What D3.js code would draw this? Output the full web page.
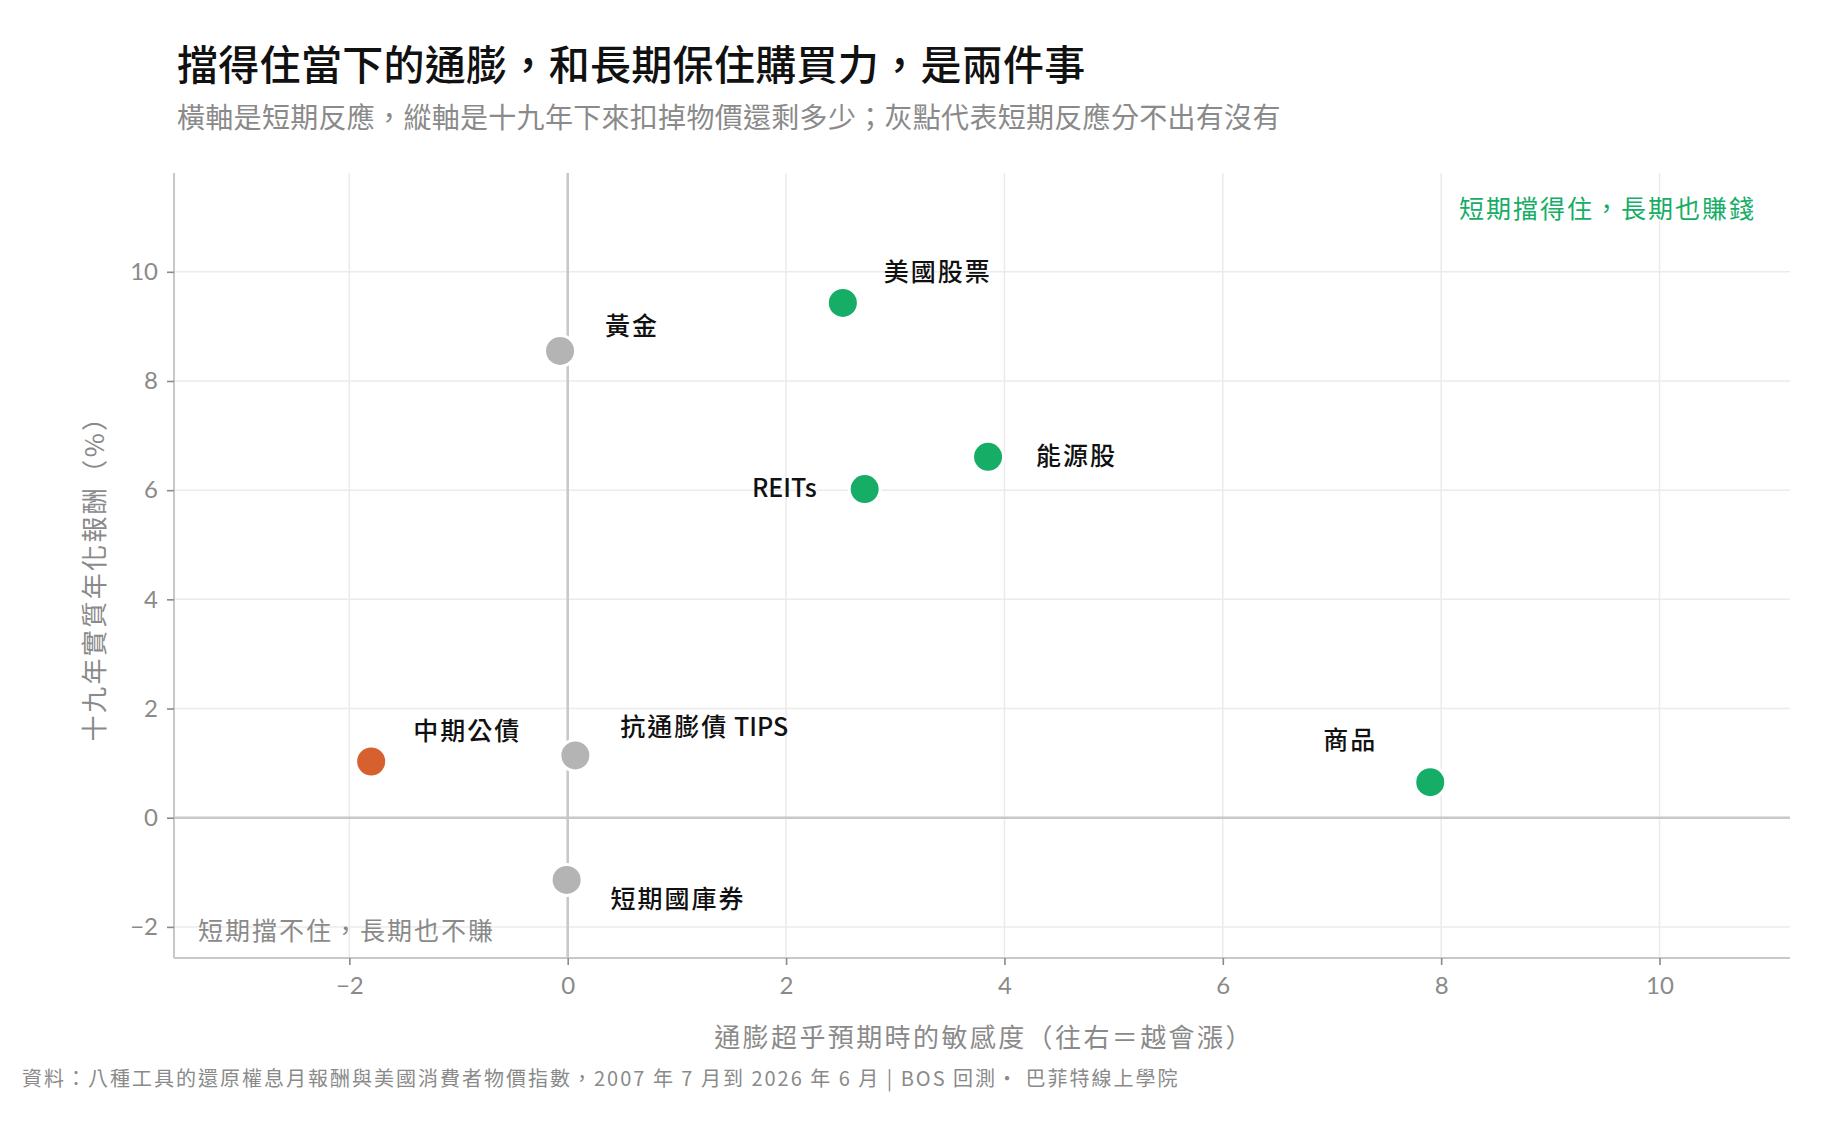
<!DOCTYPE html>
<html>
<head>
<meta charset="utf-8">
<script src="https://cdn.jsdelivr.net/npm/d3@7"></script>
<style>
    body { margin: 0; background: #fff; }
    svg { display: block; font-family: "Noto Sans CJK TC", sans-serif; }
</style>
</head>
<body>
<svg width="1836" height="1122"></svg>
<script>
// data
const assetNames = ["中期公債", "抗通膨債 TIPS", "短期國庫券", "黃金", "美國股票", "能源股", "REITs", "商品"];
const sensitivity = [-1.80, 0.07, -0.01, -0.07, 2.52, 3.85, 2.72, 7.90];
const realReturn = [1.03, 1.14, -1.14, 8.55, 9.43, 6.61, 6.02, 0.65];
const assetGroup = ["lose", "unclear", "unclear", "unclear", "win", "win", "win", "win"];

const xTicks = [-2, 0, 2, 4, 6, 8, 10];
const yTicks = [-2, 0, 2, 4, 6, 8, 10];

// label placement relative to each point (px), ggrepel-ish
const labelDx = [42, 45, 44, 45, 41, 48, -48, -53];
const labelDy = [-32, -30, 17, -27, -33, -3, -3, -44];
const labelAnchor = ["start", "start", "start", "start", "start", "start", "end", "end"];

const groupColor = { win: "#16ad66", lose: "#d6602e", unclear: "#b4b4b4" };

const svg = d3.select("svg");

const x = d3.scaleLinear().domain([-3.606, 11.195]).range([174, 1790]);
const y = d3.scaleLinear().domain([-2.57, 11.81]).range([958, 173]);

/**
 * grid + zero lines
 */
let grid = svg.append("g");
grid.selectAll(".vgrid")
    .data(xTicks)
    .enter().append("line")
    .attr("x1", d => x(d)).attr("x2", d => x(d))
    .attr("y1", y.range()[1]).attr("y2", y.range()[0])
    .attr("stroke", "#ebebeb").attr("stroke-width", 1.5);
grid.selectAll(".hgrid")
    .data(yTicks)
    .enter().append("line")
    .attr("y1", d => y(d)).attr("y2", d => y(d))
    .attr("x1", x.range()[0]).attr("x2", x.range()[1])
    .attr("stroke", "#ebebeb").attr("stroke-width", 1.5);

grid.append("line")
    .attr("x1", x(0)).attr("x2", x(0))
    .attr("y1", y.range()[1]).attr("y2", y.range()[0])
    .attr("stroke", "#c8c8c8").attr("stroke-width", 2.6);
grid.append("line")
    .attr("x1", x.range()[0]).attr("x2", x.range()[1])
    .attr("y1", y(0)).attr("y2", y(0))
    .attr("stroke", "#c8c8c8").attr("stroke-width", 2.6);

/**
 * axes
 */
let xAxis = svg.append("g")
    .attr("transform", "translate(0," + y.range()[0] + ")")
    .call(d3.axisBottom(x).tickValues(xTicks).tickSize(7).tickPadding(12)
        .tickFormat(d => d < 0 ? "\u2212" + Math.abs(d) : d));
let yAxis = svg.append("g")
    .attr("transform", "translate(" + x.range()[0] + ",0)")
    .call(d3.axisLeft(y).tickValues(yTicks).tickSize(7).tickPadding(9)
        .tickFormat(d => d < 0 ? "\u2212" + Math.abs(d) : d));

[xAxis, yAxis].forEach(function (ax) {
    ax.select(".domain").attr("stroke", "#c8c8c8").attr("stroke-width", 2);
    ax.selectAll(".tick line").attr("stroke", "#8a8a8a").attr("stroke-width", 1.6);
    ax.selectAll(".tick text")
        .attr("fill", "#8a8a8a")
        .style("font-family", "Lato, 'Noto Sans', sans-serif")
        .style("font-size", "24px");
});
// the axis path has end ticks, keep it plain
xAxis.select(".domain").attr("d", "M" + x.range()[0] + ",0H" + x.range()[1]);
yAxis.select(".domain").attr("d", "M0," + y.range()[0] + "V" + y.range()[1]);

/**
 * points
 */
const points = assetNames.map(function (name, i) {
    return { name: name, sx: sensitivity[i], ry: realReturn[i], group: assetGroup[i], i: i };
});

svg.selectAll(".pt")
    .data(points)
    .enter().append("circle")
    .attr("cx", d => x(d.sx))
    .attr("cy", d => y(d.ry))
    .attr("r", 15.5)
    .attr("fill", d => groupColor[d.group])
    .attr("stroke", "#fff")
    .attr("stroke-width", 3);

let labels = svg.selectAll(".lbl")
    .data(points)
    .enter().append("text")
    .attr("x", d => x(d.sx) + labelDx[d.i])
    .attr("y", d => y(d.ry) + labelDy[d.i])
    .attr("text-anchor", d => labelAnchor[d.i])
    .attr("dominant-baseline", "central")
    .attr("fill", "#111")
    .style("font-size", "25px")
    .style("font-weight", 500);

// CJK runs get a little spacing, latin runs stay tight
labels.each(function (d) {
    let runs = d.name.match(/[\x00-\x7f]+|[^\x00-\x7f]+/g);
    let t = d3.select(this);
    for (let i = 0; i < runs.length; i++) {
        let latin = /^[\x00-\x7f]+$/.test(runs[i]);
        t.append("tspan")
            .style("letter-spacing", latin ? "0px" : "2px")
            .text(runs[i]);
    }
});

/**
 * quadrant notes
 */
svg.append("text")
    .attr("x", 1756).attr("y", 207)
    .attr("text-anchor", "end")
    .attr("dominant-baseline", "central")
    .attr("fill", "#16ad66")
    .style("font-size", "25px")
    .style("letter-spacing", "2px")
    .text("短期擋得住，長期也賺錢");

svg.append("text")
    .attr("x", 198).attr("y", 929)
    .attr("dominant-baseline", "central")
    .attr("fill", "#8a8a8a")
    .style("font-size", "25px")
    .style("letter-spacing", "2px")
    .text("短期擋不住，長期也不賺");

/**
 * titles
 */
svg.append("text")
    .attr("x", 177).attr("y", 80)
    .attr("fill", "#111")
    .style("font-size", "41px")
    .style("font-weight", 500)
    .style("letter-spacing", "0.3px")
    .text("擋得住當下的通膨，和長期保住購買力，是兩件事");

svg.append("text")
    .attr("x", 177).attr("y", 128)
    .attr("fill", "#8a8a8a")
    .style("font-size", "28px")
    .style("letter-spacing", "0.3px")
    .text("橫軸是短期反應，縱軸是十九年下來扣掉物價還剩多少；灰點代表短期反應分不出有沒有");

svg.append("text")
    .attr("x", (x.range()[0] + x.range()[1]) / 2 + 2).attr("y", 1035)
    .attr("text-anchor", "middle")
    .attr("dominant-baseline", "central")
    .attr("fill", "#8a8a8a")
    .style("font-size", "26px")
    .style("letter-spacing", "2.4px")
    .text("通膨超乎預期時的敏感度（往右＝越會漲）");

svg.append("text")
    .attr("transform", "translate(92," + 572 + ") rotate(-90)")
    .attr("text-anchor", "middle")
    .attr("dominant-baseline", "central")
    .attr("fill", "#8a8a8a")
    .style("font-size", "26px")
    .style("letter-spacing", "2.4px")
    .text("十九年實質年化報酬（%）");

svg.append("text")
    .attr("x", 22).attr("y", 1077)
    .attr("dominant-baseline", "central")
    .attr("fill", "#8a8a8a")
    .style("font-size", "20px")
    .style("letter-spacing", "2px")
    .text("資料：八種工具的還原權息月報酬與美國消費者物價指數，2007 年 7 月到 2026 年 6 月 | BOS 回測・ 巴菲特線上學院");
</script>
</body>
</html>
